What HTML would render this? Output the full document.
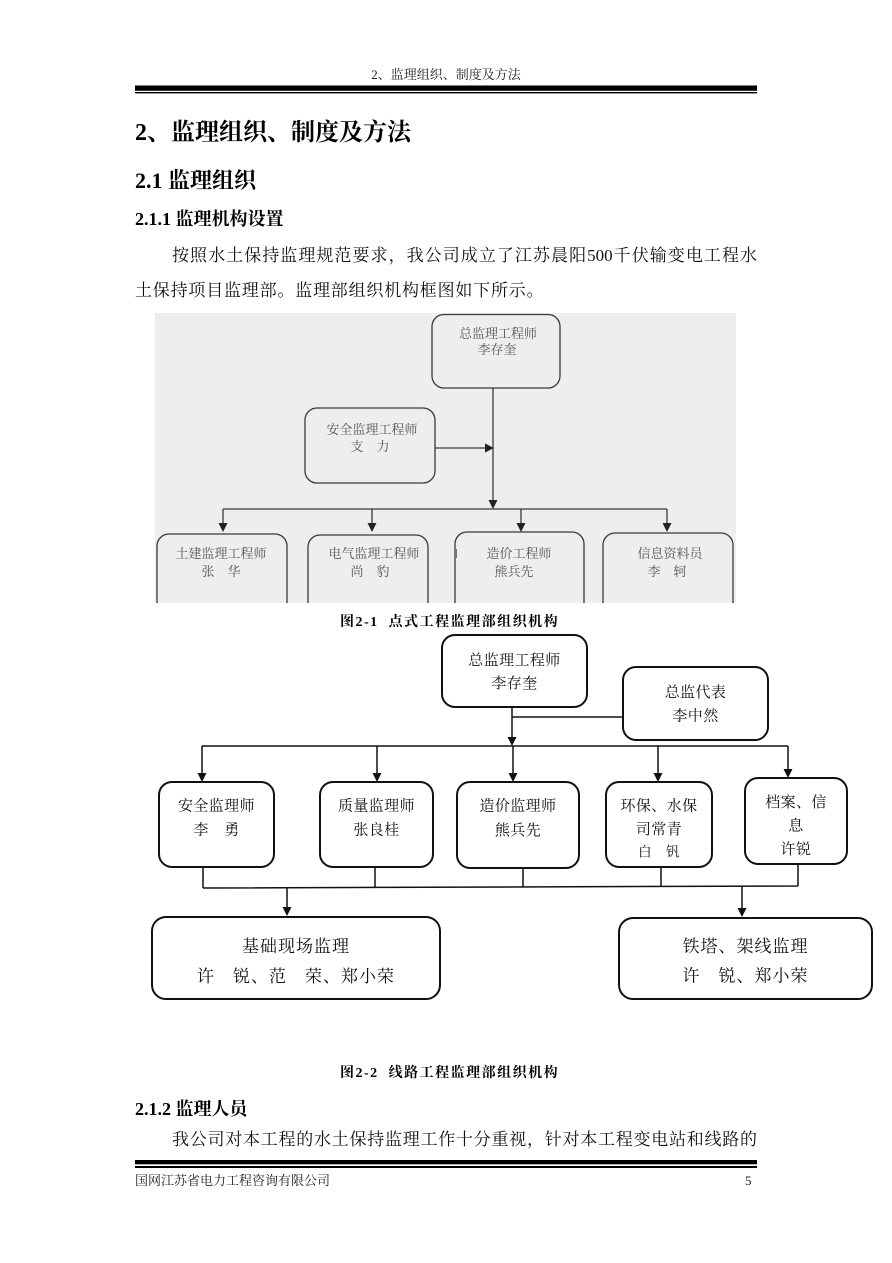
<!DOCTYPE html>
<html><head><meta charset="utf-8">
<style>
html,body{margin:0;padding:0;background:#fff;}
#p{position:relative;width:892px;height:1263px;overflow:hidden;background:#fff;font-family:"Liberation Serif","Noto Serif CJK SC",serif;color:#111;}
.t{position:absolute;white-space:pre;}
.j{position:absolute;white-space:normal;text-align:justify;text-align-last:justify;}
.b{font-weight:bold;color:#000;}
svg{position:absolute;left:0;top:0;}
</style></head><body><div id="p">

<svg width="892" height="1263" viewBox="0 0 892 1263" xmlns="http://www.w3.org/2000/svg">
  <!-- header / footer rules -->
  <rect x="135" y="85.5" width="622" height="5.3" fill="#000"/>
  <rect x="135" y="92" width="622" height="1.4" fill="#000"/>
  <rect x="135" y="1160" width="622" height="4.3" fill="#000"/>
  <rect x="135" y="1166" width="622" height="2" fill="#000"/>

  <!-- Diagram 1 (photo-like) -->
  <defs><clipPath id="c1"><rect x="155" y="313" width="581" height="290"/></clipPath></defs>
  <rect x="155" y="313" width="581" height="290" fill="#eeeeee"/>
  <g clip-path="url(#c1)">
    <g stroke="#3a3a3a" stroke-width="1.3" fill="none">
      <rect x="432" y="314.5" width="128" height="73.5" rx="12"/>
      <rect x="305" y="408" width="130" height="75" rx="12"/>
      <rect x="157" y="534" width="130" height="90" rx="12"/>
      <rect x="308" y="535" width="120" height="90" rx="12"/>
      <rect x="455" y="532" width="129" height="90" rx="12"/>
      <rect x="603" y="533" width="130" height="90" rx="12"/>
      <path d="M493 388 V502 M435 448 H486 M223 509 H667 M223 509 V525 M372 509 V525 M521 509 V525 M667 509 V525"/>
    </g>
    <g fill="#222">
      <polygon points="485,443.5 494,448 485,452.5"/>
      <polygon points="488.5,500 497.5,500 493,509"/>
      <polygon points="218.5,523 227.5,523 223,532"/>
      <polygon points="367.5,523 376.5,523 372,532"/>
      <polygon points="516.5,523 525.5,523 521,532"/>
      <polygon points="662.5,523 671.5,523 667,532"/>
    </g>
    <g fill="#555" font-family="'Liberation Serif','Noto Serif CJK SC',serif" font-size="13" text-anchor="middle">
      <text x="498" y="338">总监理工程师</text>
      <text x="497" y="354">李存奎</text>
      <text x="372" y="434">安全监理工程师</text>
      <text x="370" y="451">支　力</text>
      <text x="221" y="558">土建监理工程师</text>
      <text x="221" y="576">张　华</text>
      <text x="374" y="558">电气监理工程师</text>
      <text x="370" y="576">尚　豹</text>
      <text x="519" y="558">造价工程师</text>
      <text x="514" y="576">熊兵先</text>
      <text x="670" y="558">信息资料员</text>
      <text x="667" y="576">李　轲</text>
    </g>
    <line x1="456.5" y1="549" x2="456.5" y2="558" stroke="#777" stroke-width="1"/>
  </g>

  <!-- Diagram 2 -->
  <g stroke="#111" stroke-width="2" fill="#fff">
    <rect x="442" y="635" width="145" height="72" rx="13"/>
    <rect x="623" y="667" width="145" height="73" rx="13"/>
    <rect x="159" y="782" width="115" height="85" rx="13"/>
    <rect x="320" y="782" width="113" height="85" rx="13"/>
    <rect x="457" y="782" width="122" height="86" rx="13"/>
    <rect x="606" y="782" width="106" height="85" rx="13"/>
    <rect x="745" y="778" width="102" height="86" rx="13"/>
    <rect x="152" y="917" width="288" height="82" rx="14"/>
    <rect x="619" y="918" width="253" height="81" rx="14"/>
  </g>
  <g stroke="#111" stroke-width="1.5" fill="none">
    <path d="M512 707 V738 M512 717 H623 M202 746 H788"/>
    <path d="M202 746 V774 M377 746 V774 M513 746 V774 M658 746 V774 M788 746 V770"/>
    <path d="M203 867 V888 M375 867 V887.6 M523 868 V887.2 M661 867 V886.6 M798 864 V886 M203 888 L798 886"/>
    <path d="M287 888 V908 M742 886.5 V909"/>
  </g>
  <g fill="#111">
    <polygon points="507.5,737 516.5,737 512,746"/>
    <polygon points="197.5,773 206.5,773 202,782"/>
    <polygon points="372.5,773 381.5,773 377,782"/>
    <polygon points="508.5,773 517.5,773 513,782"/>
    <polygon points="653.5,773 662.5,773 658,782"/>
    <polygon points="783.5,769 792.5,769 788,778"/>
    <polygon points="282.5,907 291.5,907 287,916"/>
    <polygon points="737.5,908 746.5,908 742,917"/>
  </g>
  <g fill="#111" font-family="'Liberation Serif','Noto Serif CJK SC',serif" font-size="15" text-anchor="middle" letter-spacing="0.4">
    <text x="514.5" y="665">总监理工程师</text>
    <text x="514.5" y="688">李存奎</text>
    <text x="695.5" y="697">总监代表</text>
    <text x="695.5" y="720.5">李中然</text>
    <text x="216.5" y="810.5">安全监理师</text>
    <text x="216.5" y="834.5">李　勇</text>
    <text x="376.5" y="810.5">质量监理师</text>
    <text x="376.5" y="834.5">张良桂</text>
    <text x="518" y="810.5">造价监理师</text>
    <text x="518" y="835">熊兵先</text>
    <text x="659" y="810.5">环保、水保</text>
    <text x="659" y="834">司常青</text>
    <text x="659" y="856.5" font-size="13.5">白　钒</text>
    <text x="796" y="807">档案、信</text>
    <text x="796" y="830.5">息</text>
    <text x="796" y="854">许锐</text>
  </g>
  <g fill="#111" font-family="'Liberation Serif','Noto Serif CJK SC',serif" font-size="17" text-anchor="middle" letter-spacing="1">
    <text x="296" y="952">基础现场监理</text>
    <text x="296" y="982">许　锐、范　荣、郑小荣</text>
    <text x="745.5" y="952">铁塔、架线监理</text>
    <text x="745.5" y="981.5">许　锐、郑小荣</text>
  </g>
</svg>

<!-- page text -->
<div class="t" style="left:0;width:892px;text-align:center;top:68px;font-size:13px;line-height:13px;color:#222;">2、监理组织、制度及方法</div>

<div class="t b" style="left:135px;top:121px;font-size:24px;line-height:24px;">2、监理组织、制度及方法</div>
<div class="t b" style="left:135px;top:170px;font-size:22px;line-height:22px;">2.1 监理组织</div>
<div class="t b" style="left:135px;top:210px;font-size:18px;line-height:18px;">2.1.1 监理机构设置</div>

<div class="j" style="left:172px;width:585px;top:247px;font-size:17px;line-height:17px;height:17px;">按照水土保持监理规范要求，我公司成立了江苏晨阳500千伏输变电工程水</div>
<div class="t" style="left:135px;top:282px;font-size:17px;line-height:17px;letter-spacing:0.8px;">土保持项目监理部。监理部组织机构框图如下所示。</div>

<div class="t b" style="left:340px;top:616px;font-size:14px;line-height:14px;letter-spacing:1.5px;">图2-1  点式工程监理部组织机构</div>
<div class="t b" style="left:340px;top:1067px;font-size:14px;line-height:14px;letter-spacing:1.5px;">图2-2  线路工程监理部组织机构</div>

<div class="t b" style="left:135px;top:1100px;font-size:18px;line-height:18px;">2.1.2 监理人员</div>
<div class="j" style="left:172px;width:585px;top:1131px;font-size:17px;line-height:17px;height:17px;">我公司对本工程的水土保持监理工作十分重视，针对本工程变电站和线路的</div>

<div class="t" style="left:135px;top:1174px;font-size:13px;line-height:13px;color:#222;">国网江苏省电力工程咨询有限公司</div>
<div class="t" style="left:745px;top:1174px;font-size:13px;line-height:13px;color:#222;">5</div>

</div></body></html>
